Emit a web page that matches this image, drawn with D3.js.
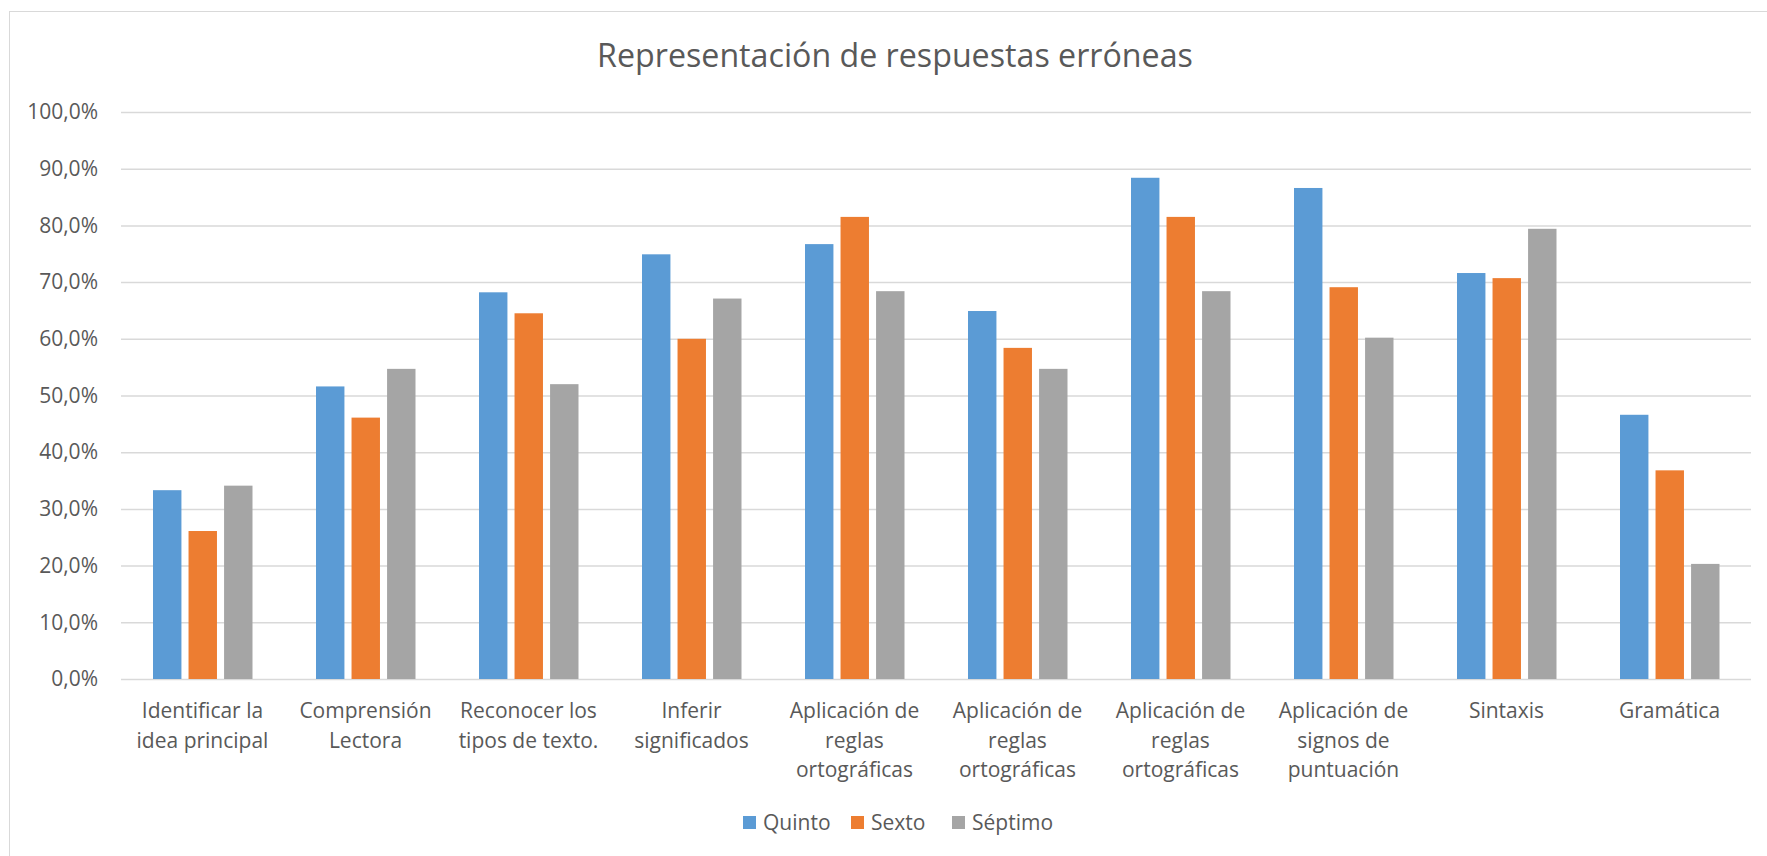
<!DOCTYPE html>
<html>
<head>
<meta charset="utf-8">
<script src="https://cdn.jsdelivr.net/npm/d3@7"></script>
<style>
  body { margin: 0; background: #fff; }
  svg { display: block; font-family: "Open Sans", sans-serif; }
</style>
</head>
<body>
<div id="chart"></div>
<script>
// data
const categories = ['Identificar la idea principal', 'Comprensión Lectora', 'Reconocer los tipos de texto.',
  'Inferir significados', 'Aplicación de reglas ortográficas', 'Aplicación de reglas ortográficas',
  'Aplicación de reglas ortográficas', 'Aplicación de signos de puntuación', 'Sintaxis', 'Gramática'];
const seriesNames = ['Quinto', 'Sexto', 'Séptimo'];
const quinto  = [33.3, 51.6, 68.2, 74.9, 76.7, 64.9, 88.4, 86.6, 71.6, 46.6];
const sexto   = [26.1, 46.1, 64.5, 60.0, 81.5, 58.4, 81.5, 69.1, 70.7, 36.8];
const septimo = [34.1, 54.7, 52.0, 67.1, 68.4, 54.7, 68.4, 60.2, 79.4, 20.3];
const yTicks = [0, 10, 20, 30, 40, 50, 60, 70, 80, 90, 100];
const colors = ['#5b9bd5', '#ed7d31', '#a5a5a5'];

const w = 1767, h = 856;
const plotLeft = 121, plotRight = 1751, plotTop = 112, plotBottom = 679;

const svg = d3.select('#chart').append('svg')
  .attr('width', w)
  .attr('height', h);

// chart area border
svg.append('rect')
  .attr('x', 9.5).attr('y', 11.5)
  .attr('width', 1800).attr('height', 900)
  .attr('fill', '#fff')
  .attr('stroke', '#d9d9d9');

svg.append('text')
  .attr('x', 895).attr('y', 67)
  .attr('text-anchor', 'middle')
  .attr('font-size', 32.2)
  .attr('fill', '#595959')
  .text('Representación de respuestas erróneas');

const x0 = d3.scaleBand().domain(d3.range(categories.length)).range([plotLeft, plotRight]);
const x1 = d3.scaleBand().domain(d3.range(3)).range([32, 131.5]).paddingInner(0.2);
const yScale = d3.scaleLinear().domain([0, 100]).range([plotBottom, plotTop]);

const fmt = d3.formatLocale({decimal: ',', thousands: '.', grouping: [3], currency: ['', '€']}).format('.1f');

// y axis + gridlines
const yAxis = svg.append('g')
  .attr('transform', 'translate(' + plotLeft + ',0)')
  .call(d3.axisLeft(yScale).tickValues(yTicks).tickSize(-(plotRight - plotLeft)).tickPadding(23).tickFormat(d => fmt(d) + '%'));
yAxis.select('.domain').remove();
yAxis.selectAll('.tick line').attr('stroke', '#d9d9d9').attr('stroke-width', 1.5);
yAxis.selectAll('.tick text').attr('fill', '#595959').attr('font-size', 21).attr('font-family', '"Open Sans", sans-serif');

// bars
const rows = categories.map((c, i) => [quinto[i], sexto[i], septimo[i]]);
svg.append('g').selectAll('g')
  .data(rows)
  .join('g')
  .attr('transform', (d, i) => 'translate(' + x0(i) + ',0)')
  .selectAll('rect')
  .data(d => d)
  .join('rect')
  .attr('x', (d, j) => x1(j))
  .attr('y', d => yScale(d))
  .attr('width', x1.bandwidth())
  .attr('height', d => yScale(0) - yScale(d))
  .attr('fill', (d, j) => colors[j]);

// x labels, wrapped
const xLabels = svg.append('g').selectAll('text')
  .data(categories)
  .join('text')
  .attr('x', (d, i) => x0(i) + x0.bandwidth() / 2)
  .attr('y', 718)
  .attr('text-anchor', 'middle')
  .attr('font-size', 21)
  .attr('fill', '#595959');

xLabels.each(function(d) {
  const t = d3.select(this);
  const words = d.split(' ');
  let line = [];
  let tspan = t.append('tspan').attr('x', t.attr('x')).attr('dy', 0);
  words.forEach(word => {
    line.push(word);
    tspan.text(line.join(' '));
    if (tspan.node().getComputedTextLength() > 150 && line.length > 1) {
      line.pop();
      tspan.text(line.join(' '));
      line = [word];
      tspan = t.append('tspan').attr('x', t.attr('x')).attr('dy', 29.5).text(word);
    }
  });
});

// legend
const legendX = [743, 851, 952];
const legend = svg.append('g').selectAll('g')
  .data(seriesNames)
  .join('g')
  .attr('transform', (d, i) => 'translate(' + legendX[i] + ',822.5)');
legend.append('rect')
  .attr('x', 0).attr('y', -6.5)
  .attr('width', 13).attr('height', 13)
  .attr('fill', (d, i) => colors[i]);
legend.append('text')
  .attr('x', 20).attr('y', 7.5)
  .attr('font-size', 21)
  .attr('fill', '#595959')
  .text(d => d);
</script>
</body>
</html>
